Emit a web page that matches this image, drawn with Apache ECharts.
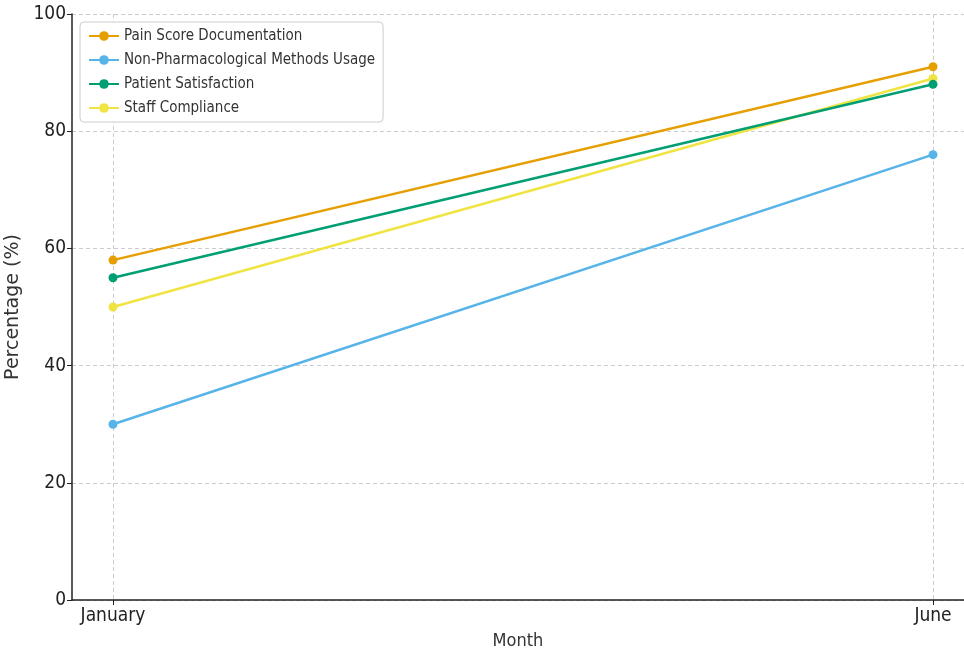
<!DOCTYPE html>
<html><head><meta charset="utf-8">
<script src="https://cdn.jsdelivr.net/npm/echarts@6/dist/echarts.min.js"></script>
<style>html,body{margin:0;padding:0;background:#fff}#c{width:964px;height:650px}</style>
</head><body><div id="c"></div>
<script>
const months = ['January', 'June'];
const seriesNames = ['Pain Score Documentation', 'Non-Pharmacological Methods Usage', 'Patient Satisfaction', 'Staff Compliance'];
const painScore = [58, 91];
const nonPharm = [30, 76];
const patientSat = [55, 88];
const staffComp = [50, 89];
const yTicks = [0, 20, 40, 60, 80, 100];
const colors = ['#E69F00', '#56B4E9', '#009E73', '#F0E442'];
const values = [painScore, nonPharm, patientSat, staffComp];
const FONT = '"DejaVu Sans Condensed", "DejaVu Sans", sans-serif';

const chart = echarts.init(document.getElementById('c'));
chart.setOption({
  animation: false,
  grid: { left: 72, top: 14, right: 0, bottom: 50, containLabel: false, outerBoundsMode: 'none' },
  legend: {
    orient: 'vertical', left: 80, top: 22,
    padding: [5, 8, 5, 8], itemGap: 6,
    backgroundColor: '#fff', borderColor: '#ccc', borderWidth: 1, borderRadius: 4,
    itemWidth: 30, itemHeight: 12,
    textStyle: { fontFamily: FONT, fontSize: 15, color: '#333', lineHeight: 18 },
    data: seriesNames
  },
  xAxis: {
    type: 'value', min: -0.05, max: 1.0378,
    name: 'Month', nameLocation: 'middle', nameGap: 32,
    nameTextStyle: { fontFamily: FONT, fontSize: 18, color: '#333' },
    axisLine: { show: true, onZero: false, lineStyle: { color: '#222', width: 1.5 } },
    axisTick: { show: true, customValues: [0, 1], length: 5, lineStyle: { color: '#222' } },
    axisLabel: { customValues: [0, 1], formatter: v => months[Math.round(v)], fontFamily: FONT, fontSize: 19, color: '#222', margin: 7 },
    splitLine: { show: true, lineStyle: { type: [4, 3], color: '#ccc' } }
  },
  yAxis: {
    type: 'value', min: 0, max: 100, interval: 20,
    name: 'Percentage (%)', nameLocation: 'middle', nameGap: 40,
    nameTextStyle: { fontFamily: '"DejaVu Sans", sans-serif', fontSize: 19, color: '#333' },
    axisLine: { show: true, onZero: false, lineStyle: { color: '#222', width: 1.5 } },
    axisTick: { show: true, length: 5, lineStyle: { color: '#222' } },
    axisLabel: { fontFamily: FONT, fontSize: 19, color: '#222', margin: 6 },
    splitLine: { show: true, lineStyle: { type: [4, 3], color: '#ccc' } }
  },
  series: values.map((arr, i) => ({
    name: seriesNames[i], type: 'line',
    data: arr.map((v, j) => [j, v]),
    symbol: 'circle', symbolSize: 9,
    lineStyle: { width: 2.5, color: colors[i] },
    itemStyle: { color: colors[i] },
    z: 10 - i
  }))
});
</script></body></html>
